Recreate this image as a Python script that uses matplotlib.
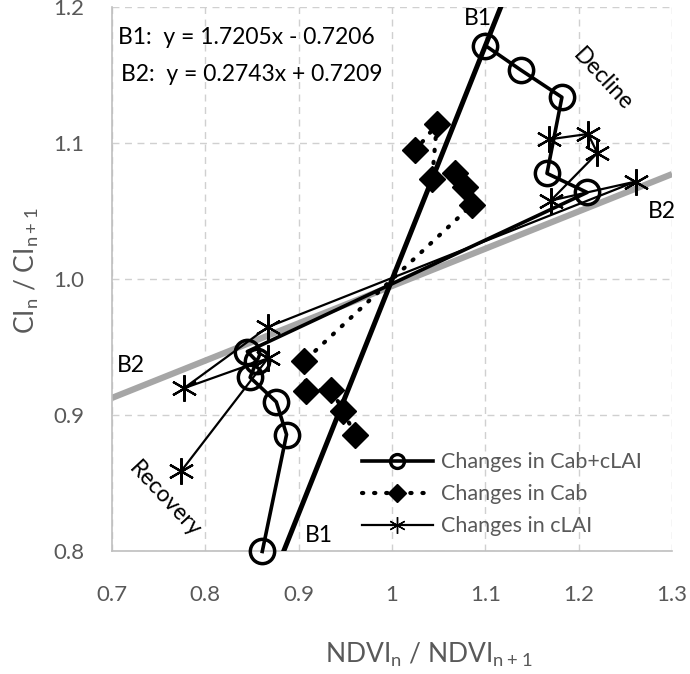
import numpy as np
import matplotlib
matplotlib.use("Agg")
import matplotlib.pyplot as plt
from matplotlib.lines import Line2D

plt.rcParams['font.family'] = ['Lato', 'DejaVu Sans']

# Data ---------------------------------------------------------------
cab_clai_x = [1.100, 1.138, 1.182, 1.166, 1.209, 0.845, 0.855, 0.848, 0.876, 0.887, 0.861]
cab_clai_y = [1.172, 1.154, 1.134, 1.078, 1.064, 0.947, 0.940, 0.928, 0.910, 0.886, 0.800]

cab_x = [0.960, 0.948, 0.935, 0.908, 0.906, 1.086, 1.078, 1.068, 1.043, 1.048, 1.025]
cab_y = [0.886, 0.903, 0.919, 0.918, 0.940, 1.055, 1.068, 1.078, 1.074, 1.114, 1.095]

clai_x = [0.774, 0.867, 0.777, 0.867, 1.261, 1.170, 1.220, 1.210, 1.168]
clai_y = [0.859, 0.942, 0.920, 0.965, 1.072, 1.058, 1.093, 1.107, 1.103]

b1_slope, b1_icpt = 1.7205, -0.7206
b2_slope, b2_icpt = 0.2743, 0.7209

x_ticks = [0.7, 0.8, 0.9, 1.0, 1.1, 1.2, 1.3]
x_tick_labels = ["0.7", "0.8", "0.9", "1", "1.1", "1.2", "1.3"]
y_ticks = [0.8, 0.9, 1.0, 1.1, 1.2]
y_tick_labels = ["0.8", "0.9", "1.0", "1.1", "1.2"]

legend_labels = ["Changes in Cab+cLAI", "Changes in Cab", "Changes in cLAI"]

# Figure ---------------------------------------------------------------
fig = plt.figure(figsize=(6.9, 6.74), dpi=100)
ax = fig.add_axes([0.1623, 0.1818, 0.8117, 0.8071])
ax.set_xlim(0.7, 1.3)
ax.set_ylim(0.8, 1.2)

ax.set_xticks(x_ticks)
ax.set_xticklabels(x_tick_labels)
ax.set_yticks(y_ticks)
ax.set_yticklabels(y_tick_labels)
ax.tick_params(length=0, labelsize=16, labelcolor='#595959')
ax.tick_params(axis='x', pad=24)
ax.tick_params(axis='y', pad=20)
ax.grid(True, color='#d0d0d0', linestyle=(0, (5, 4)), linewidth=1.0)
ax.set_axisbelow(True)
for s in ['top', 'right']:
    ax.spines[s].set_visible(False)
for s in ['left', 'bottom']:
    ax.spines[s].set_color('#bfbfbf')
    ax.spines[s].set_linewidth(1.2)

# Regression lines
xx = np.linspace(0.7, 1.3, 200)
ax.plot(xx, b2_slope * xx + b2_icpt, color='#a6a6a6', lw=4.5, zorder=2, solid_capstyle='butt')
ax.plot(xx, b1_slope * xx + b1_icpt, color='black', lw=3.6, zorder=3, solid_capstyle='butt')

# Series
dot_style = (0, (0.3, 2.6))
ax.plot(cab_x, cab_y, color='black', lw=3.0, linestyle=dot_style,
        dash_capstyle='round', marker='D', markersize=13, markerfacecolor='black',
        markeredgecolor='black', zorder=4)
ax.plot(clai_x, clai_y, color='black', lw=1.6, marker=(6, 2, 0), markersize=19,
        markeredgewidth=1.6, markeredgecolor='black', zorder=5)
ax.plot(cab_clai_x, cab_clai_y, color='black', lw=2.6, marker='o', markersize=17.5,
        markerfacecolor='none', markeredgewidth=2.5, markeredgecolor='black', zorder=6,
        clip_on=False)

# Annotations
fs_ann = 16.5
ax.text(0.706, 1.178, "B1:  y = 1.7205x - 0.7206", fontsize=fs_ann, color='black', va='center')
ax.text(0.710, 1.151, "B2:  y = 0.2743x + 0.7209", fontsize=fs_ann, color='black', va='center')
ax.text(1.092, 1.192, "B1", fontsize=fs_ann, color='black', ha='center', va='center')
ax.text(0.922, 0.812, "B1", fontsize=fs_ann, color='black', ha='center', va='center')
ax.text(1.289, 1.050, "B2", fontsize=fs_ann, color='black', ha='center', va='center')
ax.text(0.720, 0.937, "B2", fontsize=fs_ann, color='black', ha='center', va='center')
ax.text(1.226, 1.147, "Decline", fontsize=fs_ann, color='black', ha='center', va='center', rotation=-47)
ax.text(0.757, 0.838, "Recovery", fontsize=fs_ann, color='black', ha='center', va='center', rotation=-47)

# Legend
handles = [
    Line2D([], [], color='black', lw=2.6, marker='o', markersize=10, markerfacecolor='none', markeredgewidth=2.4),
    Line2D([], [], color='black', lw=3.0, linestyle=dot_style, dash_capstyle='round', marker='D', markersize=9),
    Line2D([], [], color='black', lw=1.6, marker=(6, 2, 0), markersize=12, markeredgewidth=1.0),
]
leg = ax.legend(handles, legend_labels, loc='upper left', bbox_to_anchor=(0.446, 0.182),
                frameon=False, fontsize=15.5, handlelength=3.3, handletextpad=0.4,
                labelspacing=0.55, borderaxespad=0.0, borderpad=0.0)
for t in leg.get_texts():
    t.set_color('#595959')

# Axis labels
fig.text(429 / 690, 1 - 655 / 674, r"NDVI$_\mathregular{n}$ / NDVI$_\mathregular{n+1}$",
         fontsize=19, color='#595959', ha='center', va='center')
fig.text(27 / 690, 1 - 271 / 674, r"CI$_\mathregular{n}$ / CI$_\mathregular{n+1}$",
         fontsize=19, color='#595959', ha='center', va='center', rotation=90)

fig.savefig("out.png", dpi=100)
